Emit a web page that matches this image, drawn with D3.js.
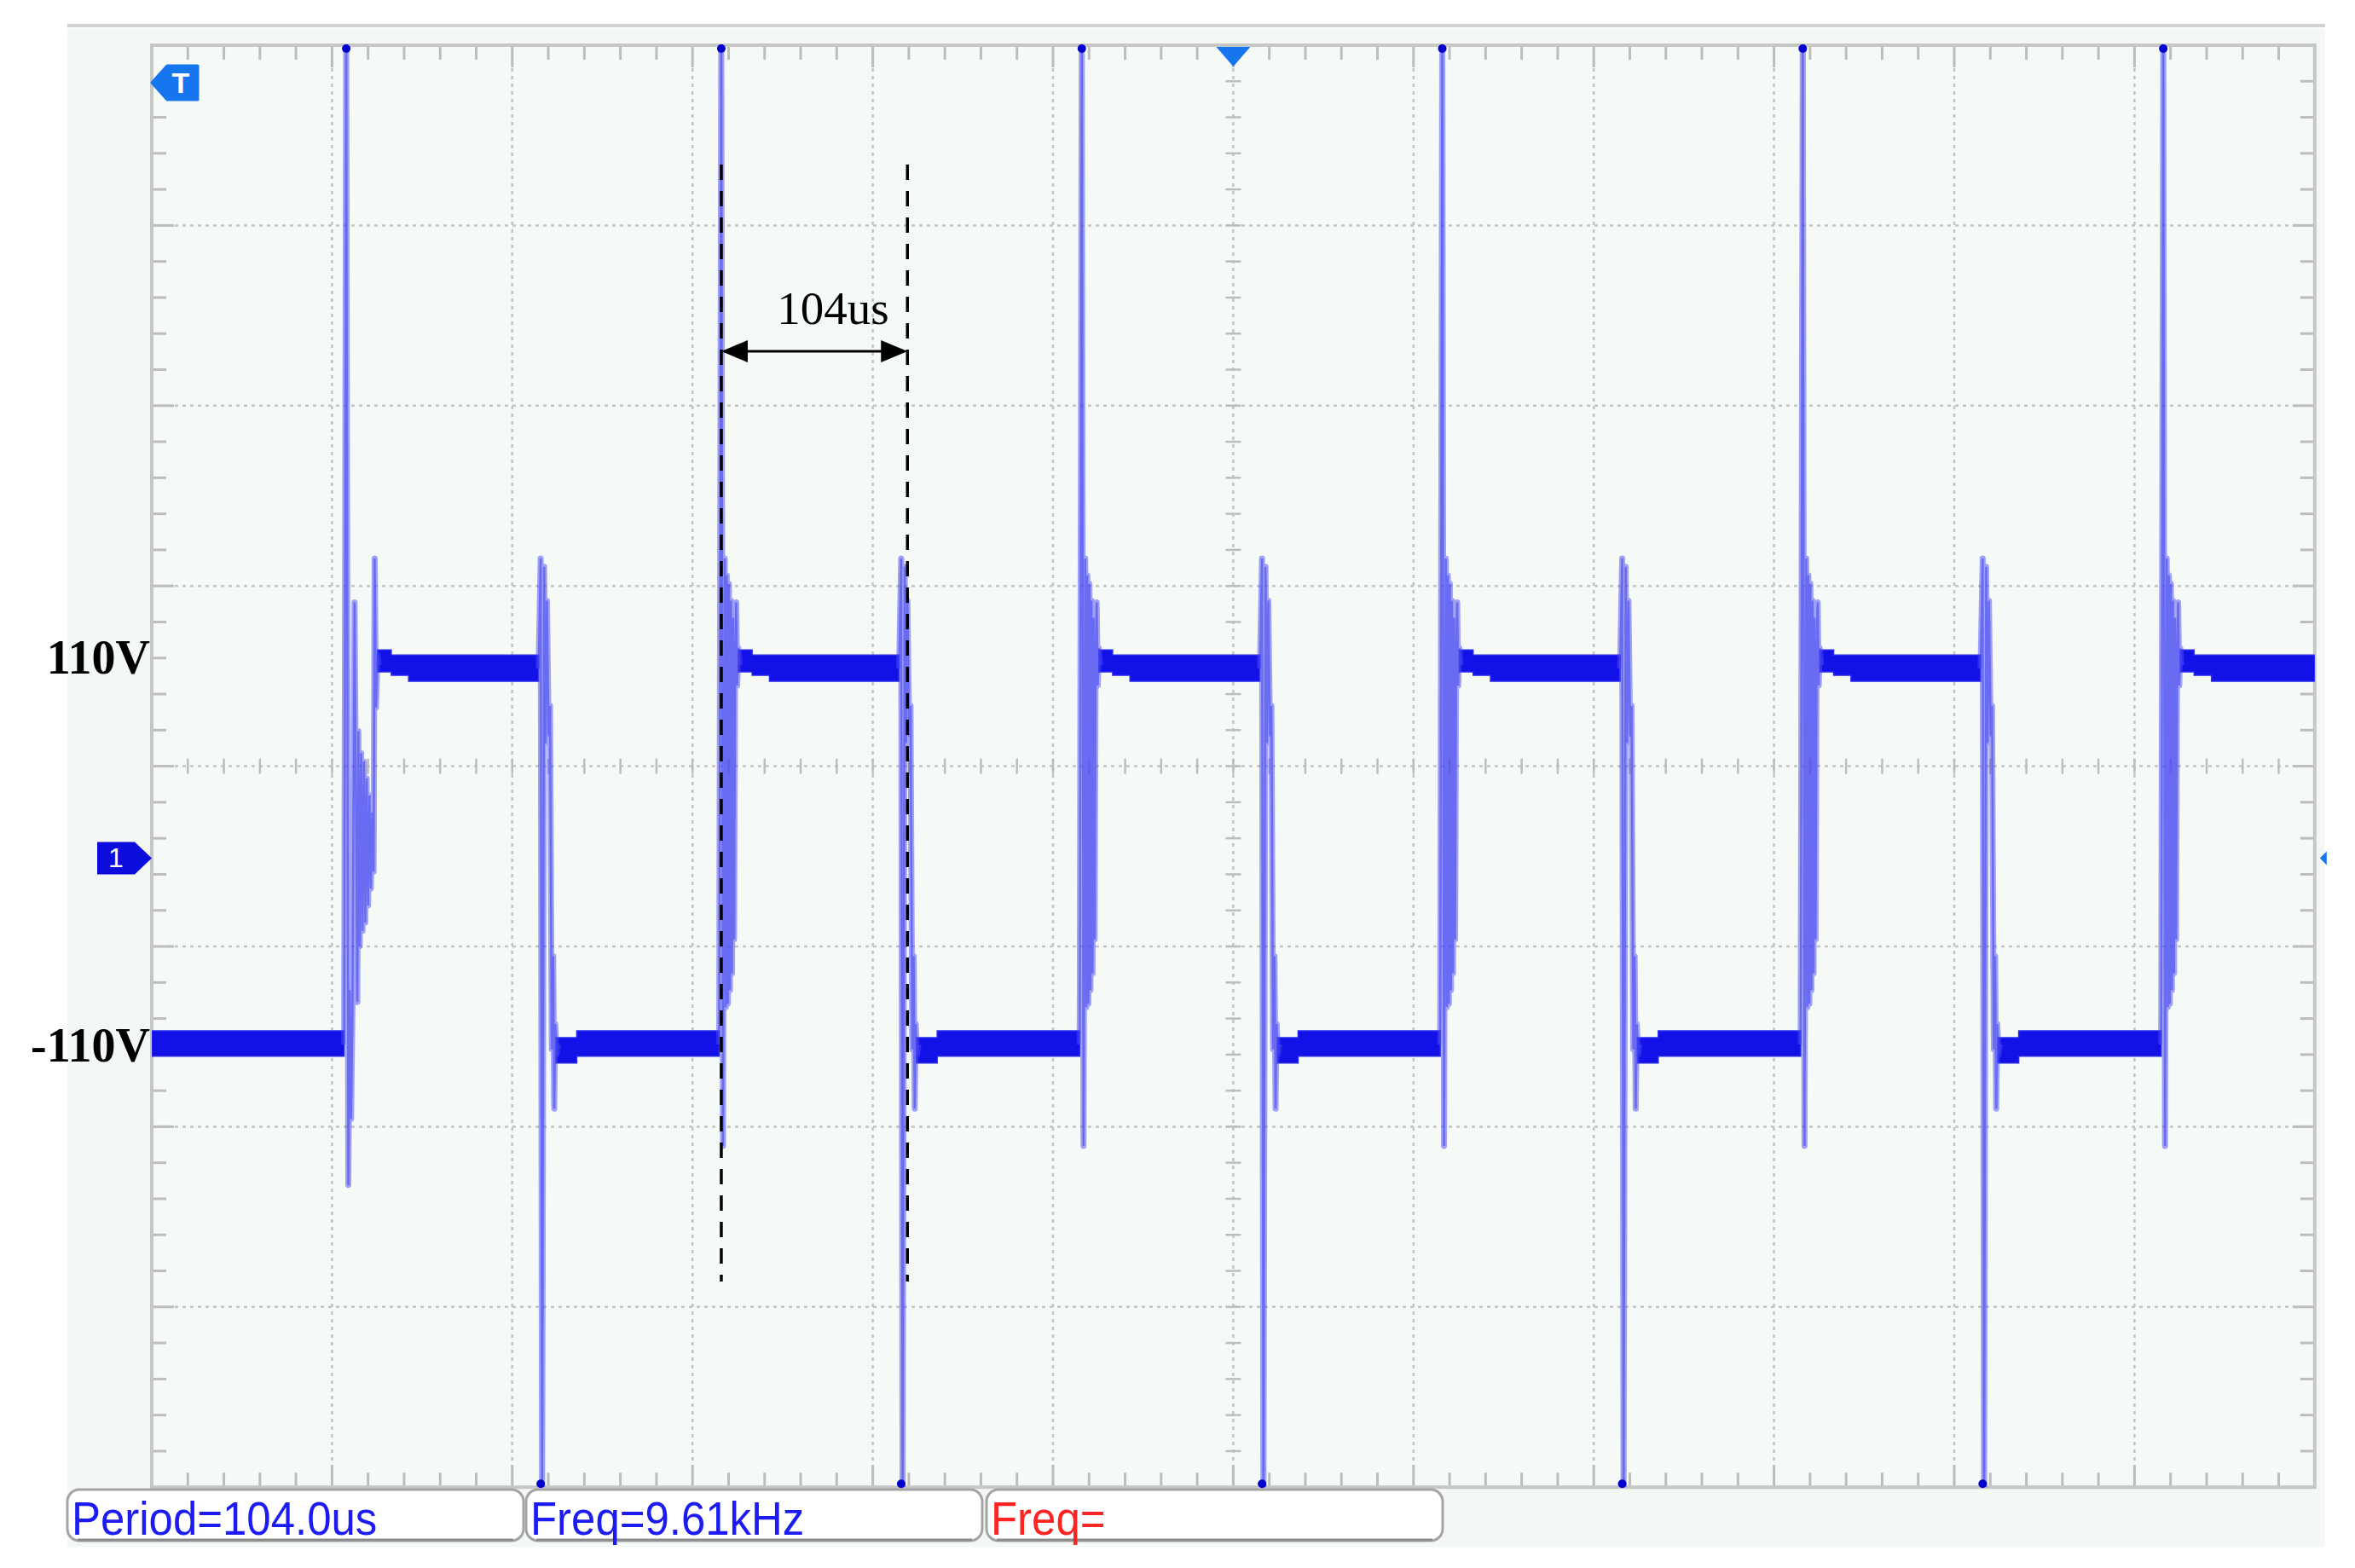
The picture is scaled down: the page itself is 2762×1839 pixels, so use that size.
<!DOCTYPE html>
<html><head><meta charset="utf-8">
<script src="https://cdn.jsdelivr.net/npm/d3@7"></script>
<style>html,body{margin:0;padding:0;background:#fff;} svg{display:block;}</style>
</head><body>
<svg id="chart" width="2762" height="1839"></svg>
<script>
// ================= DATA =================
const timeRange = [0, 624];            // us over 12 divisions
const voltRange = [-373.5, 478.1];     // V over 8 divisions
const risingEdges  = [56.1, 164.3, 268.3, 372.3, 476.3, 580.3];
const fallingEdges = [112.2, 216.2, 320.3, 424.2, 528.2];
// ringing shapes around an edge: [dt (us), V]
const firstRiseRing = [[-0.6,-112],[0,490],[0.6,-195],[1.0,-80],[1.4,-156],[1.8,-90],[2.4,149],[3.2,-87],[3.5,73],[3.9,-54],[4.3,60],[4.7,-45],[5.1,55],[5.5,-40],[5.9,45],[6.3,-30],[6.7,35],[7.1,-20],[7.5,25],[7.9,-10],[8.2,175],[8.6,87],[9.0,118],[9.4,112]];
const riseRing = [[-0.6,-112],[0,490],[0.5,-172],[1.0,175],[1.3,-90],[1.6,165],[1.9,-88],[2.2,160],[2.5,-80],[2.8,150],[3.1,-70],[3.4,140],[3.7,-50],[4.0,120],[4.3,149],[4.6,100],[4.9,122],[5.3,112]];
const fallRing = [[-0.6,110],[0,175],[0.4,-390],[1.0,170],[1.4,66],[1.8,150],[2.3,70],[2.7,88],[3.2,-115],[3.6,-60],[3.9,-150],[4.2,-100],[4.6,-118],[5.0,-112]];
// flat-level noise envelopes: [dt from start of level (us), Vmin, Vmax]
const highBandSteps = [[0,108,121],[4,106,118],[9,102.5,118]];
const lowBandSteps  = [[0,-123,-108],[6,-119,-104]];
const initialLowSteps = [[0,-119,-104]];
const levelLabels = ["110V", "-110V"];
const levelValues = [110, -110];
const measureLabels = ["Period=104.0us", "Freq=9.61kHz", "Freq="];
const measureColors = ["#1c1cf2", "#1c1cf2", "#ff2424"];
const spanTimes = [164.3, 218.0];       // dashed marker lines (us)
const spanVolts = [407.6, -252];        // dashed line extent (V)
const spanArrowVolt = 297.3;
const spanLabel = "104us";
const spanLabelPos = [196.5, 313.4];

// ================= LAYOUT =================
const L = 178, T = 53, DIV = 211.4;
const R = L + 12 * DIV, B = T + 8 * DIV;
const svg = d3.select("#chart");
const xs = d3.scaleLinear().domain(timeRange).range([L, R]);
const ys = d3.scaleLinear().domain(voltRange).range([B, T]);

svg.append("rect").attr("width", 2762).attr("height", 1839).attr("fill", "#ffffff");
// panel
svg.append("rect").attr("x", 79).attr("y", 34).attr("width", 2648).attr("height", 1780).attr("fill", "#f4f8f4");
svg.append("line").attr("x1", 79).attr("x2", 2727).attr("y1", 30).attr("y2", 30)
  .attr("stroke", "#d2d2d2").attr("stroke-width", 4);
svg.append("rect").attr("x", L).attr("y", T).attr("width", R - L).attr("height", B - T).attr("fill", "#f6faf6");

const grid = svg.append("g");
const gridColor = "#c4c4c4";
// major dotted grid
for (let k = 1; k < 12; k++) {
  grid.append("line").attr("x1", L + k * DIV).attr("x2", L + k * DIV).attr("y1", T).attr("y2", B)
    .attr("stroke", gridColor).attr("stroke-width", 2.5).attr("stroke-dasharray", "4,5");
}
for (let k = 1; k < 8; k++) {
  grid.append("line").attr("y1", T + k * DIV).attr("y2", T + k * DIV).attr("x1", L).attr("x2", R)
    .attr("stroke", gridColor).attr("stroke-width", 2.5).attr("stroke-dasharray", "4,5");
}
// border ticks
const tickColor = "#bdbdbd";
for (let j = 1; j < 60; j++) {
  const x = L + j * DIV / 5, len = (j % 5 === 0) ? 26 : 17;
  grid.append("line").attr("x1", x).attr("x2", x).attr("y1", T).attr("y2", T + len).attr("stroke", tickColor).attr("stroke-width", 3);
  grid.append("line").attr("x1", x).attr("x2", x).attr("y1", B).attr("y2", B - len).attr("stroke", tickColor).attr("stroke-width", 3);
}
for (let j = 1; j < 40; j++) {
  const y = T + j * DIV / 5, len = (j % 5 === 0) ? 26 : 17;
  grid.append("line").attr("y1", y).attr("y2", y).attr("x1", L).attr("x2", L + len).attr("stroke", tickColor).attr("stroke-width", 3);
  grid.append("line").attr("y1", y).attr("y2", y).attr("x1", R).attr("x2", R - len).attr("stroke", tickColor).attr("stroke-width", 3);
}
// centre axes ticks
const cx = L + 6 * DIV, cy = T + 4 * DIV;
for (let j = 1; j < 60; j++) {
  const x = L + j * DIV / 5;
  grid.append("line").attr("x1", x).attr("x2", x).attr("y1", cy - 9).attr("y2", cy + 9).attr("stroke", tickColor).attr("stroke-width", 2.5);
}
for (let j = 1; j < 40; j++) {
  const y = T + j * DIV / 5;
  grid.append("line").attr("y1", y).attr("y2", y).attr("x1", cx - 9).attr("x2", cx + 9).attr("stroke", tickColor).attr("stroke-width", 2.5);
}
// border
grid.append("rect").attr("x", L).attr("y", T).attr("width", R - L).attr("height", B - T)
  .attr("fill", "none").attr("stroke", "#c6c6c6").attr("stroke-width", 4);

// ================= TRACE =================
svg.append("clipPath").attr("id", "plotclip").append("rect")
  .attr("x", L).attr("y", T).attr("width", R - L).attr("height", B - T);
const trace = svg.append("g").attr("clip-path", "url(#plotclip)");

function bandPoints(start, end, steps) {
  const pts = steps.filter(s => start + s[0] < end).map(s => ({ t: start + s[0], lo: s[1], hi: s[2] }));
  const last = pts[pts.length - 1];
  pts.push({ t: end, lo: last.lo, hi: last.hi });
  return pts;
}
const bands = [];
bands.push(bandPoints(timeRange[0], risingEdges[0] - 0.6, initialLowSteps));
risingEdges.forEach((r, i) => {
  const ring = i === 0 ? firstRiseRing : riseRing;
  const settle = ring[ring.length - 1][0];
  const end = i < fallingEdges.length ? fallingEdges[i] - 0.6 : timeRange[1];
  bands.push(bandPoints(r + settle - 0.4, end, highBandSteps));
});
fallingEdges.forEach((f, i) => {
  const settle = fallRing[fallRing.length - 1][0];
  bands.push(bandPoints(f + settle - 0.6, risingEdges[i + 1] - 0.6, lowBandSteps));
});
const area = d3.area().curve(d3.curveStepAfter)
  .x(d => xs(d.t)).y0(d => ys(d.lo)).y1(d => ys(d.hi));
trace.selectAll("path.band").data(bands).join("path").attr("class", "band")
  .attr("d", area).attr("fill", "#1212e8").attr("stroke", "#2a2aee").attr("stroke-width", 1.5);

const transitions = [];
risingEdges.forEach((r, i) => {
  const ring = i === 0 ? firstRiseRing : riseRing;
  transitions.push(ring.map(p => [r + p[0], p[1]]));
});
fallingEdges.forEach(f => transitions.push(fallRing.map(p => [f + p[0], p[1]])));
const line = d3.line().x(d => xs(d[0])).y(d => ys(d[1]));
trace.selectAll("path.edge").data(transitions).join("path").attr("class", "edge")
  .attr("d", line).attr("fill", "none").attr("stroke", "#4a4af3").attr("stroke-width", 7)
  .attr("stroke-opacity", 0.5).attr("stroke-linejoin", "round");
trace.selectAll("path.edgecore").data(transitions).join("path").attr("class", "edgecore")
  .attr("d", line).attr("fill", "none").attr("stroke", "#4646f2").attr("stroke-width", 2.5)
  .attr("stroke-opacity", 0.6);
// clipped end dots
svg.selectAll("circle.top").data(risingEdges).join("circle").attr("class", "top")
  .attr("cx", d => xs(d)).attr("cy", T + 4).attr("r", 5).attr("fill", "#0000cc");
svg.selectAll("circle.bot").data(fallingEdges).join("circle").attr("class", "bot")
  .attr("cx", d => xs(d)).attr("cy", B - 4).attr("r", 5).attr("fill", "#0000cc");

// ================= MARKERS =================
const markBlue = "#1676f0";
svg.append("polygon").attr("points", `${L},${T + 44} ${L + 18},${T + 24} ${L + 54},${T + 24} ${L + 54},${T + 64} ${L + 18},${T + 64}`)
  .attr("fill", markBlue).attr("stroke", markBlue).attr("stroke-width", 3).attr("stroke-linejoin", "round");
svg.append("text").attr("x", L + 34).attr("y", T + 56).attr("text-anchor", "middle")
  .attr("font-family", "Liberation Sans, Arial, sans-serif").attr("font-weight", "bold").attr("font-size", 34)
  .attr("fill", "#ffffff").text("T");
svg.append("polygon").attr("points", `${cx - 20},${T + 2} ${cx + 20},${T + 2} ${cx},${T + 25}`).attr("fill", markBlue);
const g0 = ys(0) + 4;
svg.append("polygon").attr("points", `${L - 64},${g0 - 19} ${L - 20},${g0 - 19} ${L},${g0} ${L - 20},${g0 + 19} ${L - 64},${g0 + 19}`)
  .attr("fill", "#0c0cdc");
svg.append("text").attr("x", L - 42).attr("y", g0 + 11).attr("text-anchor", "middle")
  .attr("font-family", "Liberation Sans, Arial, sans-serif").attr("font-size", 32)
  .attr("fill", "#ffffff").text("1");
svg.append("polygon").attr("points", `${R + 6},${g0} ${R + 14},${g0 - 8} ${R + 14},${g0 + 8}`).attr("fill", markBlue);

// level labels
const labelShift = [6, 24];
svg.selectAll("text.level").data(levelLabels).join("text").attr("class", "level")
  .attr("x", 176).attr("y", (d, i) => ys(levelValues[i]) + labelShift[i])
  .attr("text-anchor", "end").attr("font-family", "Liberation Serif, Times New Roman, serif")
  .attr("font-weight", "bold").attr("font-size", 56).attr("fill", "#000").text(d => d);

// ================= ANNOTATION =================
const ann = svg.append("g");
spanTimes.forEach(t => {
  ann.append("line").attr("x1", xs(t)).attr("x2", xs(t)).attr("y1", ys(spanVolts[0])).attr("y2", ys(spanVolts[1]))
    .attr("stroke", "#000").attr("stroke-width", 3.5).attr("stroke-dasharray", "18,13");
});
const ay = ys(spanArrowVolt), ax0 = xs(spanTimes[0]), ax1 = xs(spanTimes[1]);
ann.append("line").attr("x1", ax0 + 20).attr("x2", ax1 - 20).attr("y1", ay).attr("y2", ay).attr("stroke", "#000").attr("stroke-width", 3);
ann.append("polygon").attr("points", `${ax0},${ay} ${ax0 + 31},${ay - 13} ${ax0 + 31},${ay + 13}`).attr("fill", "#000");
ann.append("polygon").attr("points", `${ax1},${ay} ${ax1 - 31},${ay - 13} ${ax1 - 31},${ay + 13}`).attr("fill", "#000");
ann.append("text").attr("x", xs(spanLabelPos[0])).attr("y", ys(spanLabelPos[1])).attr("text-anchor", "middle")
  .attr("font-family", "Liberation Serif, Times New Roman, serif").attr("font-size", 55).attr("fill", "#000").text(spanLabel);

// ================= MEASUREMENT BOXES =================
const boxX = [79, 617, 1157], boxW = 535;
const meas = svg.selectAll("g.meas").data(measureLabels).join("g").attr("class", "meas");
meas.append("rect").attr("x", (d, i) => boxX[i]).attr("y", 1747).attr("width", boxW).attr("height", 60).attr("rx", 14)
  .attr("fill", "#ffffff").attr("stroke", "#a4a4a4").attr("stroke-width", 3);
meas.append("path").attr("d", (d, i) => `M${boxX[i] + 12},1806 L${boxX[i] + boxW - 12},1806`)
  .attr("stroke", "#8c8c8c").attr("stroke-width", 3);
meas.append("text")
  .attr("transform", (d, i) => `translate(${boxX[i] + 5},1800) scale(0.91,1)`)
  .attr("font-family", "Liberation Sans, Arial, sans-serif").attr("font-size", 56)
  .attr("fill", (d, i) => measureColors[i]).text(d => d);
</script>
</body></html>
